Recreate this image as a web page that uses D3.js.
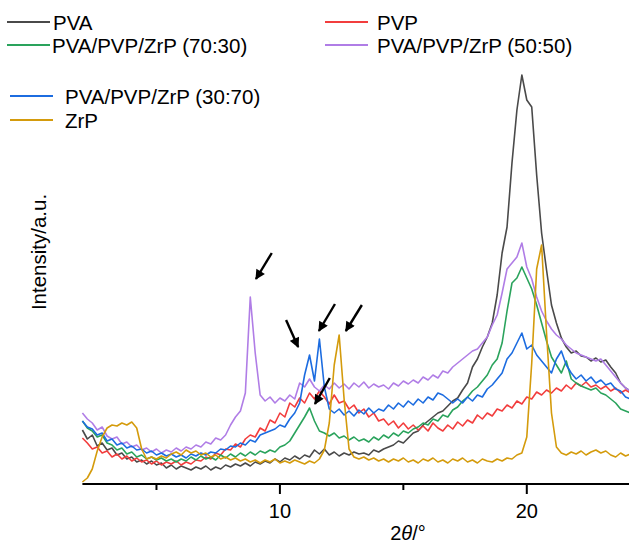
<!DOCTYPE html>
<html>
<head>
<meta charset="utf-8">
<script src="https://cdn.jsdelivr.net/npm/d3@7"></script>
<style>
  body { margin: 0; background: #fff; }
  svg text { font-family: "Liberation Sans", Arial, Helvetica, sans-serif; fill: #000; }
</style>
</head>
<body>
<script>
// 2theta grid (degrees), one value every 0.2 deg
var twoTheta = d3.range(112).map(function(i) { return +(2 + 0.2 * i).toFixed(1); });

// intensity (a.u.) of each pattern on the twoTheta grid
var pva = [53,44,48,37,40,33,35,28,30,24, 26,21,23,19,22,18,20,15,18,14,
           17,15,13,16,14,17,13,16,14,18, 16,19,17,20,17,21,19,22,20,24,
           21,25,23,27,24,28,26,33,29,34, 28,31,27,30,28,31,29,30,28,33,
           31,34,36,38,42,40,45,50,52,58, 62,66,70,72,77,82,85,93,100,116,
           124,136,146,160,188,230,256,320,373,408, 383,376,308,250,213,178,160,145,136,130,
           132,127,126,122,125,121,123,116,110,100, 95,92];
var pvp = [45,40,34,36,30,32,26,29,24,27, 22,25,21,23,19,22,18,21,19,22,
           18,21,19,23,22,26,24,30,28,34, 33,39,36,44,48,46,55,52,63,60,
           70,66,80,76,85,80,90,84,92,86, 79,88,80,82,74,78,70,74,66,70,
           62,64,58,62,55,60,54,58,53,57, 52,60,55,52,58,54,61,57,63,60,
           68,64,70,67,74,72,78,75,82,79, 86,84,91,88,93,90,95,92,98,94,
           100,97,101,96,98,94,97,92,95,90, 93,90];
var blend7030 = [62,55,52,46,48,40,38,33,35,29, 31,26,28,24,26,23,25,22,24,21,
           24,22,26,23,27,24,26,23,28,25, 29,26,30,27,31,28,32,30,33,31,
           36,38,42,50,58,66,75,62,52,50, 47,50,45,47,43,46,42,44,41,46,
           43,48,45,50,47,52,50,54,56,60, 58,64,62,68,66,73,76,82,86,92,
           96,102,108,118,124,140,172,200,205,216, 205,194,178,160,142,126,118,110,122,104,
           100,97,95,93,95,90,88,84,80,74, 72,70];
var blend5050 = [70,64,60,53,56,47,44,46,39,41, 36,38,33,35,31,34,30,33,31,35,
           32,36,34,38,36,41,39,45,43,48, 58,66,72,90,186,130,88,82,86,80,
           85,82,88,84,100,96,104,96,92,98, 94,100,95,99,94,100,96,101,95,99,
           96,98,94,100,97,102,99,103,100,106, 103,108,105,112,110,116,120,124,128,132,
           134,140,146,158,168,190,214,220,226,240, 216,204,186,172,162,154,148,144,138,134,
           130,128,126,124,122,124,118,112,106,100, 95,92];
var blend3070 = [62,56,54,48,50,42,44,38,40,35, 37,33,34,30,32,28,30,27,29,26,
           28,25,29,27,30,28,31,30,34,33, 37,36,40,38,43,41,48,50,52,54,
           58,56,64,70,80,108,128,102,144,96, 74,70,74,68,72,67,73,69,75,70,
           74,72,78,74,80,76,82,78,84,80, 86,83,90,88,84,80,84,80,86,82,
           88,86,94,98,104,110,124,130,140,150, 134,138,128,122,116,110,124,132,118,110,
           104,108,102,106,100,103,98,100,94,92, 86,84];
var zrp = [1,5,14,32,46,55,58,57,60,58, 61,55,34,24,26,24,27,25,29,31,
           28,33,30,32,28,30,26,28,24,26, 23,25,22,24,21,23,20,23,21,24,
           20,22,20,23,21,19,22,20,24,33, 60,118,148,84,34,26,24,26,23,25,
           22,24,21,24,22,25,21,23,20,24, 22,25,21,23,20,24,22,25,21,23,
           20,24,22,21,24,22,25,24,28,30, 46,120,214,238,150,70,36,30,28,31,
           29,32,28,31,33,30,32,28,26,30, 27,29];

var seriesNames = ["PVA", "PVP", "PVA/PVP/ZrP (70:30)", "PVA/PVP/ZrP (50:50)", "PVA/PVP/ZrP (30:70)", "ZrP"];
var seriesValues = [pva, pvp, blend7030, blend5050, blend3070, zrp];
var seriesColors = ["#4a4a4a", "#f23d3d", "#2aa35c", "#b07de6", "#1c6ce0", "#d49b0c"];

var majorTicks = [10, 20];
var minorTicks = [5, 15, 25];

// arrows marking the ZrP reflections: [tail 2theta, tail I, tip 2theta, tip I]
var arrows = [[9.67, 230, 9.03, 204],
              [10.25, 163, 10.74, 136],
              [12.23, 179, 11.58, 152],
              [13.32, 178, 12.67, 152],
              [12.02, 105, 11.42, 79]];

var W = 629, H = 543;

var x = d3.scaleLinear().domain([2, 24.14]).range([82.4, 629]);
var y = d3.scaleLinear().domain([0, 420]).range([483, 63]);

var svg = d3.select("body").append("svg")
    .attr("width", W)
    .attr("height", H);

// arrow head
svg.append("defs").append("marker")
    .attr("id", "head")
    .attr("viewBox", "0 0 10 10")
    .attr("refX", 9).attr("refY", 5)
    .attr("markerUnits", "userSpaceOnUse")
    .attr("markerWidth", 11).attr("markerHeight", 10)
    .attr("orient", "auto")
  .append("path")
    .attr("d", "M0,0L10,5L0,10Z")
    .attr("fill", "#000");

// curves
var line = d3.line()
    .x(function(d, i) { return x(twoTheta[i]); })
    .y(function(d) { return y(d); });

svg.selectAll(".curve")
    .data(seriesValues)
    .enter().append("path")
    .attr("class", "curve")
    .attr("fill", "none")
    .attr("stroke", function(d, i) { return seriesColors[i]; })
    .attr("stroke-width", 1.6)
    .attr("stroke-linejoin", "round")
    .attr("d", line);

// x axis
var axisY = 484;
svg.append("line")
    .attr("x1", x(2)).attr("x2", W)
    .attr("y1", axisY).attr("y2", axisY)
    .attr("stroke", "#000").attr("stroke-width", 2);

svg.selectAll(".major")
    .data(majorTicks)
    .enter().append("line")
    .attr("x1", function(d) { return x(d); }).attr("x2", function(d) { return x(d); })
    .attr("y1", axisY).attr("y2", axisY + 10)
    .attr("stroke", "#000").attr("stroke-width", 2);

svg.selectAll(".minor")
    .data(minorTicks.filter(function(d) { return d <= x.domain()[1]; }))
    .enter().append("line")
    .attr("x1", function(d) { return x(d); }).attr("x2", function(d) { return x(d); })
    .attr("y1", axisY).attr("y2", axisY + 6)
    .attr("stroke", "#000").attr("stroke-width", 2);

svg.selectAll(".ticklabel")
    .data(majorTicks)
    .enter().append("text")
    .attr("x", function(d) { return x(d); })
    .attr("y", 518)
    .attr("text-anchor", "middle")
    .style("font-size", "20px")
    .text(function(d) { return d; });

// axis titles
var xt = svg.append("text")
    .attr("x", 408).attr("y", 540)
    .attr("text-anchor", "middle")
    .style("font-size", "20px");
xt.append("tspan").text("2");
xt.append("tspan").style("font-style", "italic").text("θ");
xt.append("tspan").text("/°");

svg.append("text")
    .attr("transform", "translate(46,252) rotate(-90)")
    .attr("text-anchor", "middle")
    .style("font-size", "20.5px")
    .text("Intensity/a.u.");

// arrows
svg.selectAll(".arrow")
    .data(arrows)
    .enter().append("line")
    .attr("x1", function(d) { return x(d[0]); })
    .attr("y1", function(d) { return y(d[1]); })
    .attr("x2", function(d) { return x(d[2]); })
    .attr("y2", function(d) { return y(d[3]); })
    .attr("stroke", "#000")
    .attr("stroke-width", 2.4)
    .attr("marker-end", "url(#head)");

// legend
var legendPos = [[7, 30, 53], [325, 30, 377], [7, 53, 52], [325, 53, 377], [10, 104, 65], [10, 128, 65]];

var leg = svg.selectAll(".legend")
    .data(seriesNames)
    .enter().append("g")
    .attr("class", "legend");

leg.append("line")
    .attr("x1", function(d, i) { return legendPos[i][0]; })
    .attr("x2", function(d, i) { return legendPos[i][0] + 43; })
    .attr("y1", function(d, i) { return legendPos[i][1] - 8; })
    .attr("y2", function(d, i) { return legendPos[i][1] - 8; })
    .attr("stroke", function(d, i) { return seriesColors[i]; })
    .attr("stroke-width", 2);

leg.append("text")
    .attr("x", function(d, i) { return legendPos[i][2]; })
    .attr("y", function(d, i) { return legendPos[i][1]; })
    .style("font-size", "20.5px")
    .text(function(d) { return d; });
</script>
</body>
</html>
